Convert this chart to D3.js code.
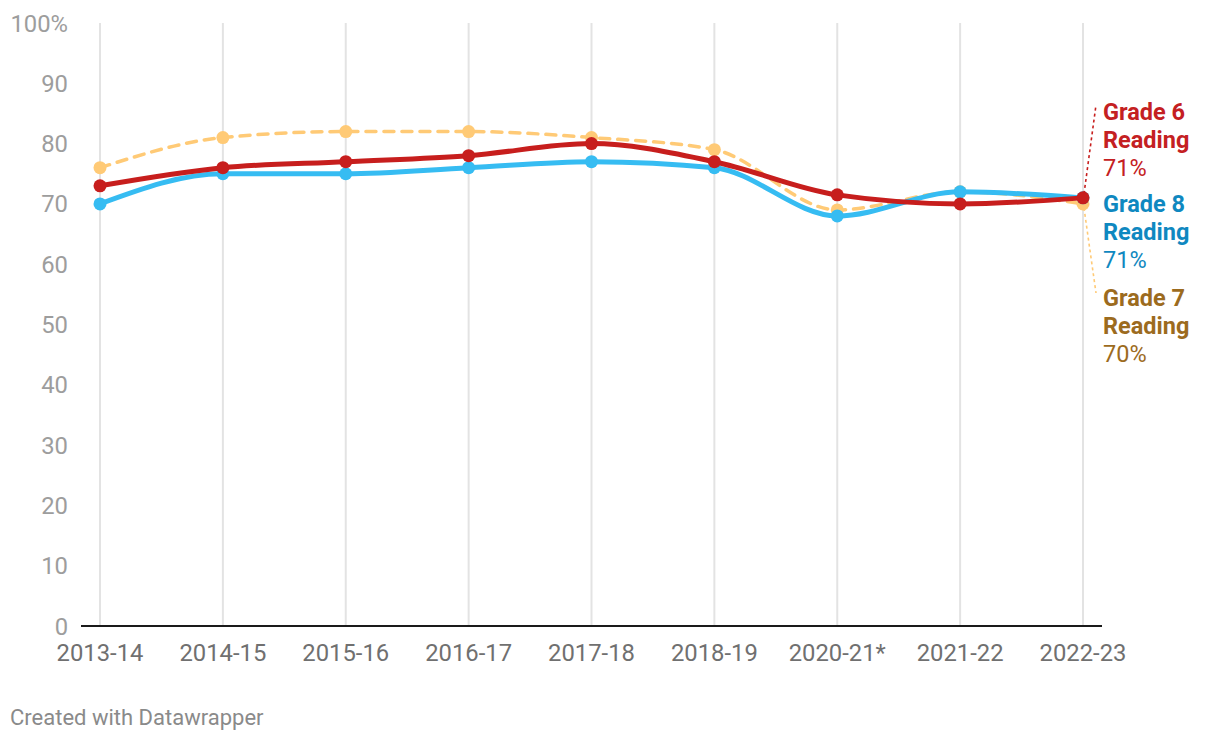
<!DOCTYPE html>
<html>
<head>
<meta charset="utf-8">
<script src="https://cdn.jsdelivr.net/npm/d3@7"></script>
<style>
  body { margin: 0; background: #fff; }
  svg { display: block; font-family: Roboto, "Noto Sans", sans-serif; }
</style>
</head>
<body>
<svg id="chart" width="1220" height="742"></svg>
<script>
const years = ["2013-14","2014-15","2015-16","2016-17","2017-18","2018-19","2020-21*","2021-22","2022-23"];
const grade6 = [73, 76, 77, 78, 80, 77, 71.5, 70, 71];
const grade7 = [76, 81, 82, 82, 81, 79, 69, 72, 70];
const grade8 = [70, 75, 75, 76, 77, 76, 68, 72, 71];
const yTicks = [0, 10, 20, 30, 40, 50, 60, 70, 80, 90, 100];

const series = [
  { name: "Grade 7", values: grade7, color: "#ffca76", label: "#9c6b1e", width: 3.5, dash: "10,8", r: 6.5 },
  { name: "Grade 8", values: grade8, color: "#36bcf2", label: "#0f88c0", width: 5, dash: null, r: 6.5 },
  { name: "Grade 6", values: grade6, color: "#c71e1d", label: "#c42022", width: 5, dash: null, r: 6.5 }
];

const svg = d3.select("#chart");
const x = d3.scalePoint().domain(years).range([100, 1083]);
const y = d3.scaleLinear().domain([0, 100]).range([626, 23]);

// vertical gridlines
svg.append("g").selectAll("line").data(years).join("line")
  .attr("x1", d => x(d)).attr("x2", d => x(d))
  .attr("y1", y(100)).attr("y2", y(0))
  .attr("stroke", "#e3e3e3").attr("stroke-width", 2);

// y labels
svg.append("g").selectAll("text").data(yTicks).join("text")
  .attr("x", 68).attr("y", d => y(d)).attr("dy", "0.36em")
  .attr("text-anchor", "end").attr("fill", "#9d9d9d")
  .attr("font-size", 23.8)
  .text(d => d === 100 ? "100%" : d);

// x labels
svg.append("g").selectAll("text").data(years).join("text")
  .attr("x", d => x(d)).attr("y", 661)
  .attr("text-anchor", "middle").attr("fill", "#707070")
  .attr("font-size", 23.8)
  .text(d => d);

// baseline
svg.append("line").attr("x1", 81).attr("x2", 1102)
  .attr("y1", y(0)).attr("y2", y(0))
  .attr("stroke", "#1a1a1a").attr("stroke-width", 2.2);

const line = d3.line().x((d, i) => x(years[i])).y(d => y(d)).curve(d3.curveMonotoneX);

series.forEach(s => {
  const g = svg.append("g");
  g.append("path").datum(s.values).attr("d", line)
    .attr("fill", "none").attr("stroke", s.color)
    .attr("stroke-width", s.width).attr("stroke-linecap", "round")
    .attr("stroke-dasharray", s.dash);
  g.selectAll("circle").data(s.values).join("circle")
    .attr("cx", (d, i) => x(years[i])).attr("cy", d => y(d))
    .attr("r", s.r).attr("fill", s.color);
});

// end labels
const last = years.length - 1;
const labels = [
  { s: series[2], top: 120 },
  { s: series[1], top: 212 },
  { s: series[0], top: 306 }
];
labels.forEach(l => {
  const t = svg.append("text").attr("x", 1103).attr("y", l.top)
    .attr("fill", l.s.label).attr("font-size", 23.5);
  t.append("tspan").attr("x", 1103).attr("font-weight", "bold").text(l.s.name);
  t.append("tspan").attr("x", 1103).attr("dy", 28).attr("font-weight", "bold").text("Reading");
  t.append("tspan").attr("x", 1103).attr("dy", 28).text(Math.round(l.s.values[last]) + "%");
});

// leader lines
svg.append("line")
  .attr("x1", x(years[last]) + 1).attr("y1", y(grade6[last]) - 4)
  .attr("x2", 1096).attr("y2", 105)
  .attr("stroke", "#c71e1d").attr("stroke-width", 1.6).attr("stroke-dasharray", "3,3");
svg.append("line")
  .attr("x1", x(years[last]) + 1).attr("y1", y(grade7[last]) + 4)
  .attr("x2", 1096).attr("y2", 293)
  .attr("stroke", "#ffca76").attr("stroke-width", 1.6).attr("stroke-dasharray", "3,3");

// footer
svg.append("text").attr("x", 10).attr("y", 725)
  .attr("fill", "#8a8a8a").attr("font-size", 22)
  .text("Created with Datawrapper");
</script>
</body>
</html>
